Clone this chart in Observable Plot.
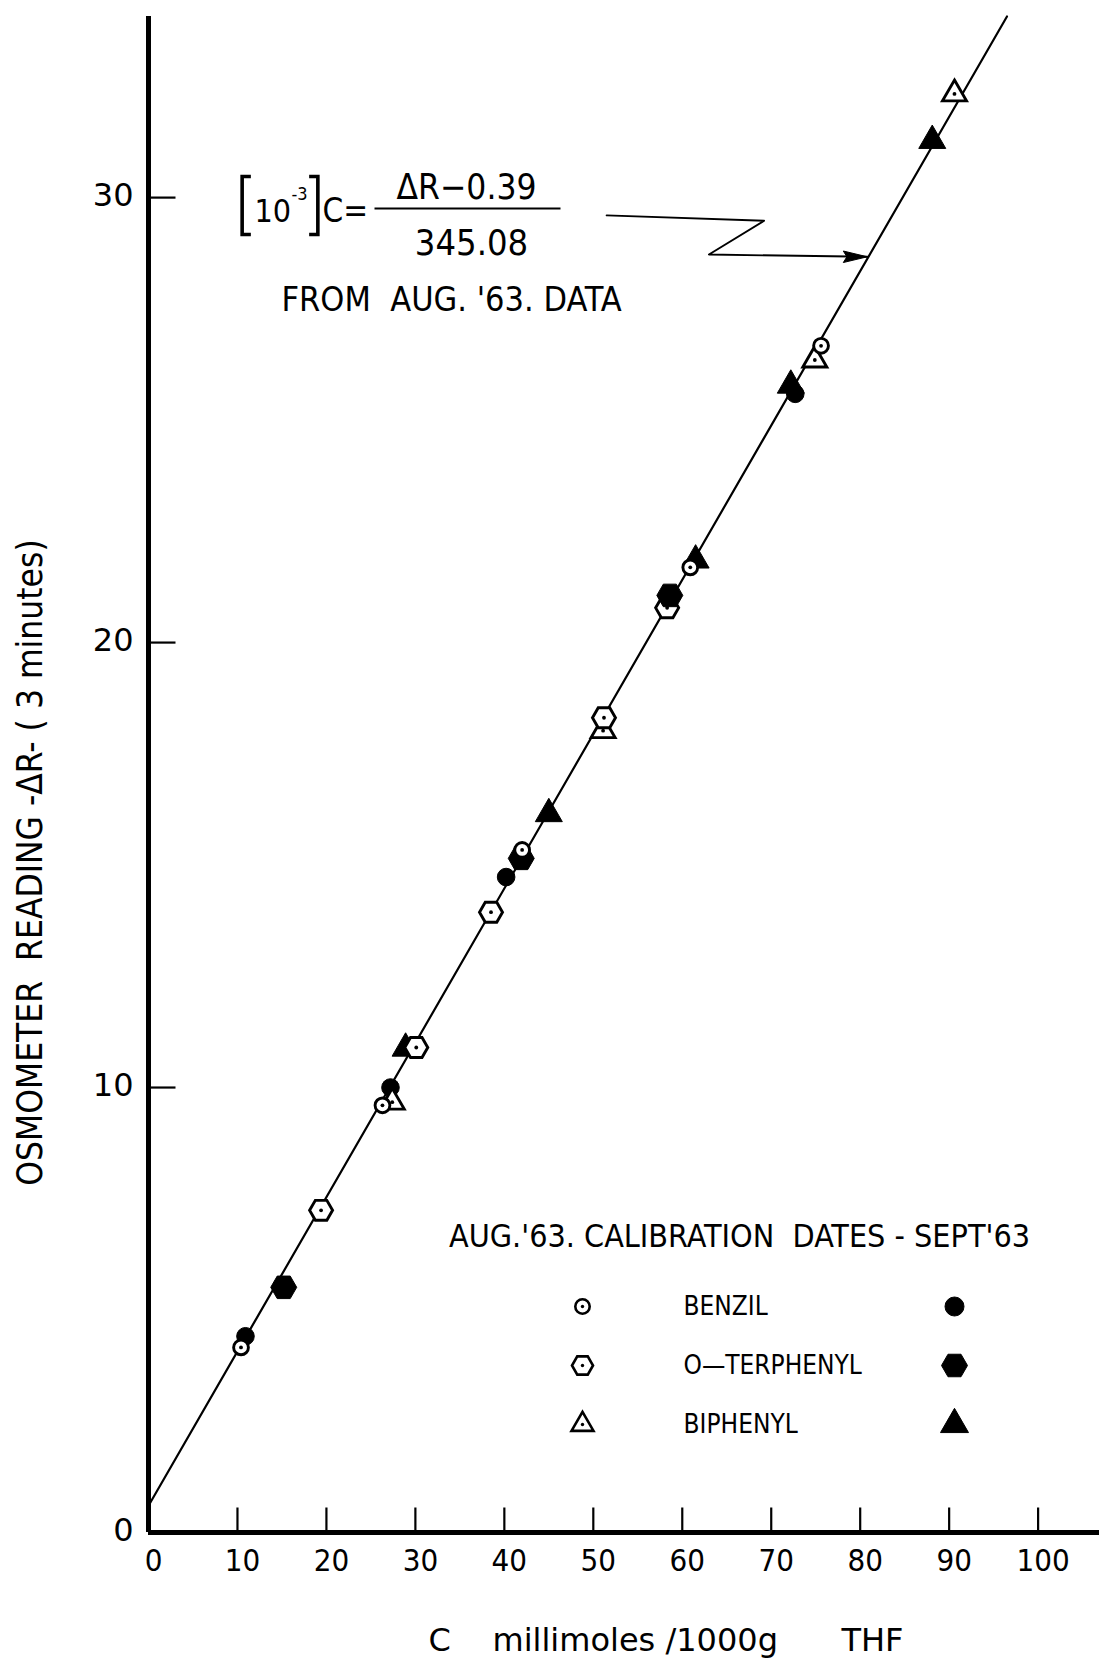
<!DOCTYPE html>
<html><head><meta charset="utf-8">
<script src="https://cdn.jsdelivr.net/npm/d3@7"></script>
<script src="https://cdn.jsdelivr.net/npm/@observablehq/plot@0.6"></script>
<style>
html,body{margin:0;padding:0;background:#fff;}
#chart svg{display:block;background:#fff;}
</style></head><body><div id="chart"></div>
<script>
// ---------------- data ----------------
// C in millimoles / 1000 g THF, R = osmometer reading ΔR (3 minutes)
const benzilAugC = [10.4, 26.3, 42.0, 60.9, 75.6];
const benzilAugR = [4.16, 9.60, 15.34, 21.69, 26.67];
const benzilSeptC = [10.9, 27.2, 40.2, 72.7];
const benzilSeptR = [4.41, 10.0, 14.73, 25.59];
const terphenylAugC = [19.4, 30.1, 38.5, 51.2, 58.3];
const terphenylAugR = [7.24, 10.9, 13.94, 18.31, 20.78];
const terphenylSeptC = [15.2, 41.9, 58.6];
const terphenylSeptR = [5.51, 15.15, 21.06];
const biphenylAugC = [27.4, 51.1, 74.9, 90.6];
const biphenylAugR = [9.67, 18.02, 26.35, 32.33];
const biphenylSeptC = [28.9, 45.0, 61.5, 72.2, 88.1];
const biphenylSeptR = [10.88, 16.15, 21.85, 25.78, 31.28];
// calibration line (from Aug. '63 data)
const fitC = [0, 96.5];
const fitR = [0.6, 34.07];
// callout leader (zig-zag arrow pointing at the line)
const calloutC = [51.5, 69.2, 63.0, 80.8];
const calloutR = [29.6, 29.48, 28.72, 28.67];
// ticks
const xTicks = [0, 10, 20, 30, 40, 50, 60, 70, 80, 90, 100];
const yTicks = [0, 10, 20, 30];
const xDomain = [0, 106.9];
const yDomain = [0, 34.07];
// texts
const yTitle = "OSMOMETER\u00a0\u00a0READING\u00a0-\u0394R-\u00a0(\u00a03\u00a0minutes)";
const xTitleParts = ["C", "millimoles\u00a0/1000g", "THF"];
const legendTitle = "AUG.'63.\u00a0CALIBRATION\u00a0\u00a0DATES\u00a0-\u00a0SEPT'63";
const legendNames = ["BENZIL", "O\u2014TERPHENYL", "BIPHENYL"];
const formulaNum = "\u0394R\u22120.39";
const formulaDen = "345.08";
const formulaNote = "FROM\u00a0\u00a0AUG.\u00a0'63.\u00a0DATA";

// ---------------- layout ----------------
const W = 1099, H = 1658;
const mL = 148, mT = 16, mR = 0, mB = H - 1532;
const FONT_C = "'DejaVu Sans Condensed', 'DejaVu Sans', sans-serif";
const FONT_N = "'DejaVu Sans', sans-serif";
const at = (px, py) => ({frameAnchor: "top-left", dx: px - mL, dy: py - mT});
const pts = (C, R) => C.map((c, i) => ({C: c, R: R[i]}));

// ---------------- symbols ----------------
const flatHexagon = {draw(ctx, size) {
  const r = Math.sqrt(size / Math.PI), h = r * Math.sqrt(3) / 2;
  ctx.moveTo(r, 0); ctx.lineTo(r / 2, h); ctx.lineTo(-r / 2, h);
  ctx.lineTo(-r, 0); ctx.lineTo(-r / 2, -h); ctx.lineTo(r / 2, -h); ctx.closePath();
}};
const triangleUp = {draw(ctx, size) {
  const r = Math.sqrt(size / Math.PI);
  ctx.moveTo(0, -r * 1.155); ctx.lineTo(r, r * 0.577); ctx.lineTo(-r, r * 0.577); ctx.closePath();
}};
const tickUp = {draw(ctx, size) { const r = Math.sqrt(size / Math.PI); ctx.moveTo(0, 0); ctx.lineTo(0, -r); }};
const tickRight = {draw(ctx, size) { const r = Math.sqrt(size / Math.PI); ctx.moveTo(0, 0); ctx.lineTo(r, 0); }};
const hBar = {draw(ctx, size) { const r = Math.sqrt(size / Math.PI); ctx.moveTo(-r, 0); ctx.lineTo(r, 0); }};
const bracketL = {draw(ctx, size) { const r = Math.sqrt(size / Math.PI), w = r * 0.3; ctx.moveTo(w / 2, -r); ctx.lineTo(-w / 2, -r); ctx.lineTo(-w / 2, r); ctx.lineTo(w / 2, r); }};
const bracketR = {draw(ctx, size) { const r = Math.sqrt(size / Math.PI), w = r * 0.3; ctx.moveTo(-w / 2, -r); ctx.lineTo(w / 2, -r); ctx.lineTo(w / 2, r); ctx.lineTo(-w / 2, r); }};
const dart = {draw(ctx, size) {
  const r = Math.sqrt(size / Math.PI);
  ctx.moveTo(0, 0); ctx.lineTo(-r, -r * 0.24); ctx.lineTo(-r * 0.85, 0); ctx.lineTo(-r, r * 0.24); ctx.closePath();
}};

const openStyle = {fill: "#fff", stroke: "#000", strokeWidth: 2.9};
const filledStyle = {fill: "#000", stroke: "#000", strokeWidth: 1};
const txt = (size, font = FONT_C, extra = {}) => ({fontFamily: font, fontSize: size, fill: "#000", ...extra});

const series = {
  benzilAug: pts(benzilAugC, benzilAugR),
  benzilSept: pts(benzilSeptC, benzilSeptR),
  terphAug: pts(terphenylAugC, terphenylAugR),
  terphSept: pts(terphenylSeptC, terphenylSeptR),
  biphAug: pts(biphenylAugC, biphenylAugR),
  biphSept: pts(biphenylSeptC, biphenylSeptR)
};
const centerDot = (data) => Plot.dot(data, {x: "C", y: "R", r: 1.9, fill: "#000", stroke: "none"});

const marks = [
  // axes
  Plot.ruleX([0], {stroke: "#000", strokeWidth: 5}),
  Plot.ruleY([0], {stroke: "#000", strokeWidth: 5}),
  Plot.dot(xTicks.filter(d => d > 0), {x: d => d, y: () => 0, symbol: tickUp, r: 25, stroke: "#000", strokeWidth: 2.2, fill: "none"}),
  Plot.dot(yTicks.filter(d => d > 0), {x: () => 0, y: d => d, symbol: tickRight, r: 27, stroke: "#000", strokeWidth: 2.2, fill: "none"}),
  Plot.text(xTicks, {x: d => d, y: () => 0, text: d => String(d), dx: 5, dy: 16, lineAnchor: "top", ...txt(31)}),
  Plot.text(yTicks, {x: () => 0, y: d => d, text: d => String(d), dx: -15, dy: -2, textAnchor: "end", lineAnchor: "middle", ...txt(32, FONT_N)}),
  Plot.text([yTitle], {frameAnchor: "left", dx: 30 - mL, dy: 862 - (mT + 1532) / 2, rotate: -90, textAnchor: "middle", lineAnchor: "middle", ...txt(35)}),
  Plot.text([xTitleParts[0]], {...at(428, 1640), textAnchor: "start", lineAnchor: "middle", ...txt(32, FONT_N)}),
  Plot.text([xTitleParts[1]], {...at(492, 1640), textAnchor: "start", lineAnchor: "middle", ...txt(32, FONT_N)}),
  Plot.text([xTitleParts[2]], {...at(841, 1640), textAnchor: "start", lineAnchor: "middle", ...txt(32, FONT_N)}),

  // calibration line
  Plot.line(pts(fitC, fitR), {x: "C", y: "R", stroke: "#000", strokeWidth: 2.2}),

  // data points
  Plot.dot(series.benzilSept, {x: "C", y: "R", r: 8.8, ...filledStyle}),
  Plot.dot(series.biphSept, {x: "C", y: "R", r: 13.5, symbol: triangleUp, ...filledStyle}),
  Plot.dot(series.biphAug, {x: "C", y: "R", r: 12, symbol: triangleUp, ...openStyle}),
  centerDot(series.biphAug),
  Plot.dot(series.terphAug, {x: "C", y: "R", r: 11.5, symbol: flatHexagon, ...openStyle}),
  centerDot(series.terphAug),
  Plot.dot(series.terphSept, {x: "C", y: "R", r: 13, symbol: flatHexagon, ...filledStyle}),
  Plot.dot(series.benzilAug, {x: "C", y: "R", r: 7.4, ...openStyle}),
  centerDot(series.benzilAug),

  // callout
  Plot.line(pts(calloutC, calloutR), {x: "C", y: "R", stroke: "#000", strokeWidth: 1.9}),
  Plot.dot(pts(calloutC, calloutR).slice(-1), {x: "C", y: "R", symbol: dart, r: 24, fill: "#000", stroke: "#000", strokeWidth: 1}),

  // formula
  Plot.dot([0], {...at(246, 205), symbol: bracketL, r: 29, stroke: "#000", strokeWidth: 3.6, fill: "none"}),
  Plot.text(["10"], {...at(254, 211), textAnchor: "start", lineAnchor: "middle", ...txt(32)}),
  Plot.text(["-3"], {...at(291, 194), textAnchor: "start", lineAnchor: "middle", ...txt(18)}),
  Plot.dot([0], {...at(313, 205), symbol: bracketR, r: 29, stroke: "#000", strokeWidth: 3.6, fill: "none"}),
  Plot.text(["C="], {...at(322, 211), textAnchor: "start", lineAnchor: "middle", ...txt(33)}),
  Plot.dot([0], {...at(467, 208), symbol: hBar, r: 93, stroke: "#000", strokeWidth: 2.2, fill: "none"}),
  Plot.text([formulaNum], {...at(466, 187), textAnchor: "middle", lineAnchor: "middle", ...txt(35)}),
  Plot.text([formulaDen], {...at(471, 243), textAnchor: "middle", lineAnchor: "middle", ...txt(36)}),
  Plot.text([formulaNote], {...at(281, 300), textAnchor: "start", lineAnchor: "middle", ...txt(34)}),

  // legend
  Plot.text([legendTitle], {...at(739, 1236), textAnchor: "middle", lineAnchor: "middle", ...txt(32)})
];

const legendSymbols = [
  {open: {r: 7.2}, filled: {r: 9.5}},
  {open: {r: 10.5, symbol: flatHexagon}, filled: {r: 13, symbol: flatHexagon}},
  {open: {r: 11, symbol: triangleUp}, filled: {r: 14, symbol: triangleUp}}
];
legendNames.forEach((name, i) => {
  const yRow = 1306 + i * 59;
  marks.push(Plot.dot([name], {...at(582, yRow), ...legendSymbols[i].open, ...openStyle, strokeWidth: 2.6}));
  marks.push(Plot.dot([name], {...at(582, yRow), r: 1.7, fill: "#000", stroke: "none"}));
  marks.push(Plot.text([name], {...at(683, yRow), textAnchor: "start", lineAnchor: "middle", ...txt(26)}));
  marks.push(Plot.dot([name], {...at(954, yRow), ...legendSymbols[i].filled, ...filledStyle}));
});

const chart = Plot.plot({
  width: W, height: H,
  marginLeft: mL, marginTop: mT, marginRight: mR, marginBottom: mB,
  style: {background: "#fff", color: "#000", fontFamily: FONT_C},
  x: {domain: xDomain, axis: null},
  y: {domain: yDomain, axis: null},
  marks
});
document.getElementById("chart").appendChild(chart);
</script>
</body></html>
